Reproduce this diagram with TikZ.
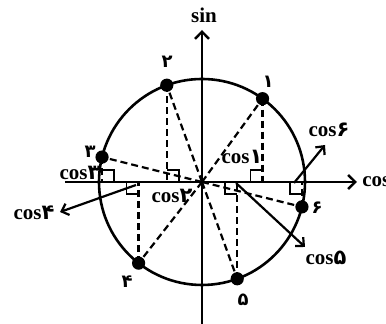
\documentclass[tikz,border=0pt]{standalone}
\usepackage{fontspec}
\setmainfont{Liberation Serif}
\newfontfamily\fadigits{DejaVu Sans}
\usetikzlibrary{arrows.meta}
\tikzset{
  axisline/.style={-{Straight Barb[length=3.6pt,width=7pt,line width=1.2pt]},line width=1.3pt},
  unitcircle/.style={line width=1.3pt},
  projline/.style={dash pattern=on 3.5pt off 2pt,line width=1.1pt},
  pointer/.style={-{Straight Barb[length=3.2pt,width=6pt,line width=1.1pt]},line width=1.1pt},
  rightmark/.style={line width=.9pt},
  dot/.style={circle,fill=black,inner sep=0pt,minimum size=6.6pt},
  coslabel/.style={font=\fontsize{10.5}{12}\selectfont\bfseries,inner sep=0pt},
  numlabel/.style={font=\fontsize{9}{10}\fadigits\bfseries,inner sep=0pt}
}
\newcommand{\cosof}[1]{cos{\fadigits\bfseries #1}}

\begin{document}
\begin{tikzpicture}[x=0.5pt,y=0.5pt]
\useasboundingbox (-202,-142) rectangle (184,182);
\coordinate (O) at (0,0);
\coordinate (xl) at (-137,0);
\coordinate (xr) at (155,0);
\coordinate (yb) at (0,-142);
\coordinate (yt) at (0,152);

% circle and axes
\draw[unitcircle] (O) circle (103);
\draw[axisline] (xl) -- (xr);
\draw[axisline] (yb) -- (yt);
\node[coslabel,anchor=west] (cosax) at (160,0) {cos};
\node[coslabel] (sinax) at (2,167) {sin};

% points, projections and right angles
\foreach \i/\a/\sx/\sy in {1/54/-1/1,2/110/1/1,3/166/1/1,4/232/-1/-1,5/290/-1/-1,6/346/-1/-1}{
  \coordinate (q\i) at (\a:103);
  \coordinate (f\i) at (q\i |- O);
  \draw[rightmark] (f\i) ++(\sx*12,0) -- ++(0,\sy*12) -- ++(-\sx*12,0);
  \draw[projline] (O) -- (q\i);
  \draw[projline] (q\i) -- (f\i);
  \node[dot] (p\i) at (q\i) {};
}

% point numbers
\foreach \i/\x/\y/\d in {1/66/100/۱,2/-35/120/۲,3/-112/30/۳,4/-75/-100/۴,5/41/-118/۵,6/115/-26/۶}
  \node[numlabel] (n\i) at (\x,\y) {\d};

% cosine labels
\node[coslabel] (c1) at (40,25) {\cosof{۱}};
\node[coslabel] (c2) at (-30,-14) {\cosof{۲}};
\node[coslabel] (c3) at (-122,9) {\cosof{۳}};
\node[coslabel] (c4) at (-168,-31) {\cosof{۴}};
\node[coslabel] (c5) at (124,-76) {\cosof{۵}};
\node[coslabel] (c6) at (127,52) {\cosof{۶}};

% pointers
\coordinate (s4) at (-66,-3);
\coordinate (t4) at (-142,-30);
\coordinate (s5) at (34,-1);
\coordinate (t5) at (103,-65);
\coordinate (s6) at (92,-1);
\coordinate (t6) at (123,37);
\draw[pointer] (s4) -- (t4);
\draw[pointer] (s5) -- (t5);
\draw[pointer] (s6) -- (t6);
\end{tikzpicture}
\end{document}
